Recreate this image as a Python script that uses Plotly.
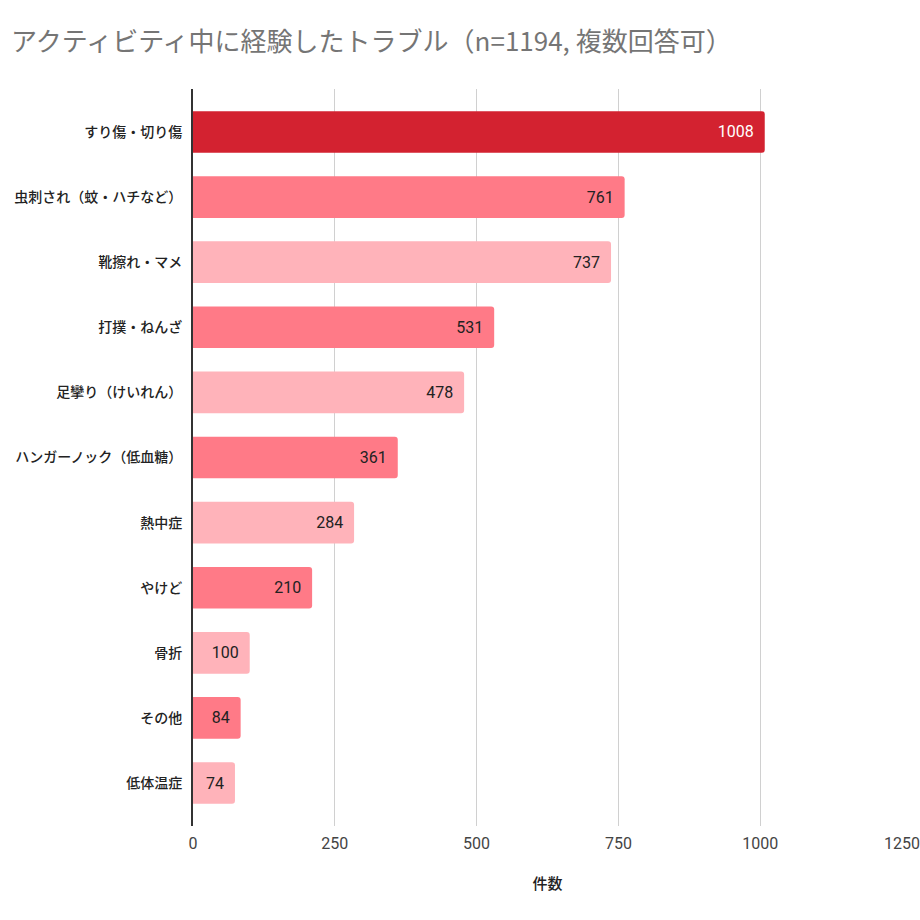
import plotly.graph_objects as go

categories = ["すり傷・切り傷", "虫刺され（蚊・ハチなど）", "靴擦れ・マメ", "打撲・ねんざ",
              "足攣り（けいれん）", "ハンガーノック（低血糖）", "熱中症", "やけど", "骨折",
              "その他", "低体温症"]
values = [1008, 761, 737, 531, 478, 361, 284, 210, 100, 84, 74]
bar_colors = ["#D32230", "#FF7A87", "#FFB3BA", "#FF7A87", "#FFB3BA", "#FF7A87",
              "#FFB3BA", "#FF7A87", "#FFB3BA", "#FF7A87", "#FFB3BA"]
text_colors = ["#FFFFFF"] + ["#222222"] * 10
x_ticks = [0, 250, 500, 750, 1000, 1250]

fig = go.Figure(go.Bar(
    x=values, y=categories, orientation="h",
    marker=dict(color=bar_colors, cornerradius=3, line=dict(width=0)),
    text=[str(v) + "\u00a0\u00a0" for v in values], textposition="inside", insidetextanchor="end",
    textangle=0, constraintext="none",
    textfont=dict(family="Roboto", size=16, color=text_colors),
    width=0.64,
))

fig.update_layout(
    width=920, height=920,
    margin=dict(l=193, r=18, t=89, b=94),
    paper_bgcolor="white", plot_bgcolor="white",
    title=dict(text="アクティビティ中に経験したトラブル（n=1194, 複数回答可）",
               x=0.012, xanchor="left", y=0.954, yanchor="middle",
               font=dict(family="Noto Sans CJK JP", size=26, color="#757575")),
    showlegend=False,
    xaxis=dict(range=[0, 1250], tickvals=x_ticks, ticktext=[str(t) for t in x_ticks],
               automargin=False,
               showgrid=True, gridcolor="#D0D0D0", gridwidth=1, zeroline=False,
               tickfont=dict(family="Roboto", size=16, color="#444444"),
               ticks="", ticklabelstandoff=6, ticklabeloverflow="allow",
               title=dict(text="件数", standoff=26,
                          font=dict(family="Noto Sans CJK JP", size=15, color="#222222", weight=500))),
    yaxis=dict(autorange=False, range=[10.66, -0.66], type="category",
               automargin=False,
               showline=True, linecolor="#333333", linewidth=2,
               showgrid=False, ticks="", ticklabelstandoff=6,
               tickfont=dict(family="Noto Sans CJK JP", size=14, color="#222222", weight=500)),
)

fig.write_html("out.html")
